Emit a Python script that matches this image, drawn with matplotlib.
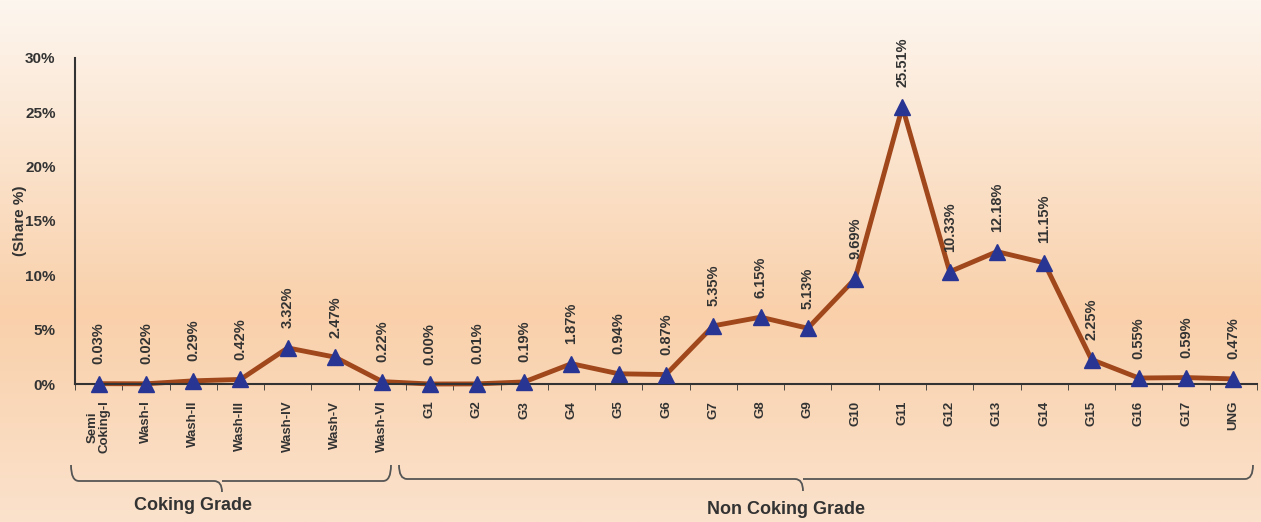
import numpy as np
import matplotlib.pyplot as plt
from matplotlib.path import Path
from matplotlib.patches import PathPatch

# Data
grades = ["Semi\nCoking-I", "Wash-I", "Wash-II", "Wash-III", "Wash-IV", "Wash-V", "Wash-VI",
          "G1", "G2", "G3", "G4", "G5", "G6", "G7", "G8", "G9", "G10", "G11", "G12",
          "G13", "G14", "G15", "G16", "G17", "UNG"]
share = [0.03, 0.02, 0.29, 0.42, 3.32, 2.47, 0.22, 0.00, 0.01, 0.19, 1.87, 0.94, 0.87,
         5.35, 6.15, 5.13, 9.69, 25.51, 10.33, 12.18, 11.15, 2.25, 0.55, 0.59, 0.47]
yticks = [0, 5, 10, 15, 20, 25, 30]

plt.rcParams['font.family'] = ['Liberation Sans Narrow', 'Liberation Sans', 'DejaVu Sans']
txt = '#333333'

W, H = 1261, 522
fig = plt.figure(figsize=(W / 100, H / 100), dpi=100)

# Background gradient over the whole figure
bg = fig.add_axes([0, 0, 1, 1], zorder=-10)
top = np.array([253, 246, 239]) / 255
mid = np.array([249, 208, 170]) / 255
bot = np.array([251, 226, 204]) / 255
t = np.linspace(0, 1, 300)[:, None]
grad = np.where(t < 0.6, top + (mid - top) * (t / 0.6), mid + (bot - mid) * ((t - 0.6) / 0.4))
bg.imshow(grad[:, None, :].repeat(2, axis=1), aspect='auto', extent=[0, 1, 0, 1])
bg.axis('off')

ax = fig.add_axes([75 / W, 1 - 384 / H, 1182 / W, 326 / H])
ax.patch.set_alpha(0)

x = np.arange(len(grades))
ax.plot(x, share, color='#a0471c', lw=3.5, zorder=2, clip_on=False)
ax.plot(x, share, ls='none', marker='^', ms=11, color='#283593', zorder=3, clip_on=False)

for xi, v in zip(x, share):
    ax.annotate(f"{v:.2f}%", (xi, v), xytext=(0, 14), textcoords='offset points',
                rotation=90, ha='center', va='bottom', fontsize=10.5,
                fontweight='bold', color=txt)

ax.set_xlim(-0.5, len(grades) - 0.5)
ax.set_ylim(0, 30)
ax.set_yticks(yticks)
ax.set_yticklabels([f"{v}%" for v in yticks], fontsize=11, fontweight='bold', color=txt)
ax.set_xticks(x)
ax.set_xticklabels(grades, rotation=90, fontsize=9.5, fontweight='bold', color=txt,
                   linespacing=1.0)
ax.set_xticks(np.arange(-0.5, len(grades), 1), minor=True)
ax.tick_params(axis='x', which='major', length=0, pad=12)
ax.tick_params(axis='x', which='minor', length=4, direction='out', color='#333333')
ax.tick_params(axis='y', length=0, pad=14)
for s in ['top', 'right']:
    ax.spines[s].set_visible(False)
for s in ['left', 'bottom']:
    ax.spines[s].set_color('#333333')
    ax.spines[s].set_linewidth(1.5)

ax.set_ylabel("(Share %)", fontsize=11, fontweight='bold', color=txt)
ax.yaxis.set_label_coords(-48 / 1182, 0.5)


def brace(x0, x1, xm, ytop, ybar, ytip):
    # pixel coords (origin top-left) -> figure fraction
    r = 8
    pts = [(x0, ytop), (x0, ybar), (x0 + r, ybar), (xm - r, ybar), (xm, ybar), (xm, ytip),
           (xm, ybar), (xm + r, ybar), (x1 - r, ybar), (x1, ybar), (x1, ytop)]
    codes = [Path.MOVETO, Path.CURVE3, Path.CURVE3, Path.LINETO, Path.CURVE3, Path.CURVE3,
             Path.MOVETO, Path.CURVE3, Path.LINETO, Path.CURVE3, Path.CURVE3]
    pts = [(px / W, 1 - py / H) for px, py in pts]
    fig.add_artist(PathPatch(Path(pts, codes), transform=fig.transFigure,
                             fill=False, ec='#555555', lw=1.3))


brace(71, 391, 222, 465, 481, 492)
brace(399, 1253, 803, 465, 479, 491)

fig.text(193 / W, 1 - 505 / H, "Coking Grade", ha='center', va='center',
         fontsize=13, fontweight='bold', color=txt)
fig.text(786 / W, 1 - 510 / H, "Non Coking Grade", ha='center', va='center',
         fontsize=13, fontweight='bold', color=txt)

fig.savefig("out.png", dpi=100)
